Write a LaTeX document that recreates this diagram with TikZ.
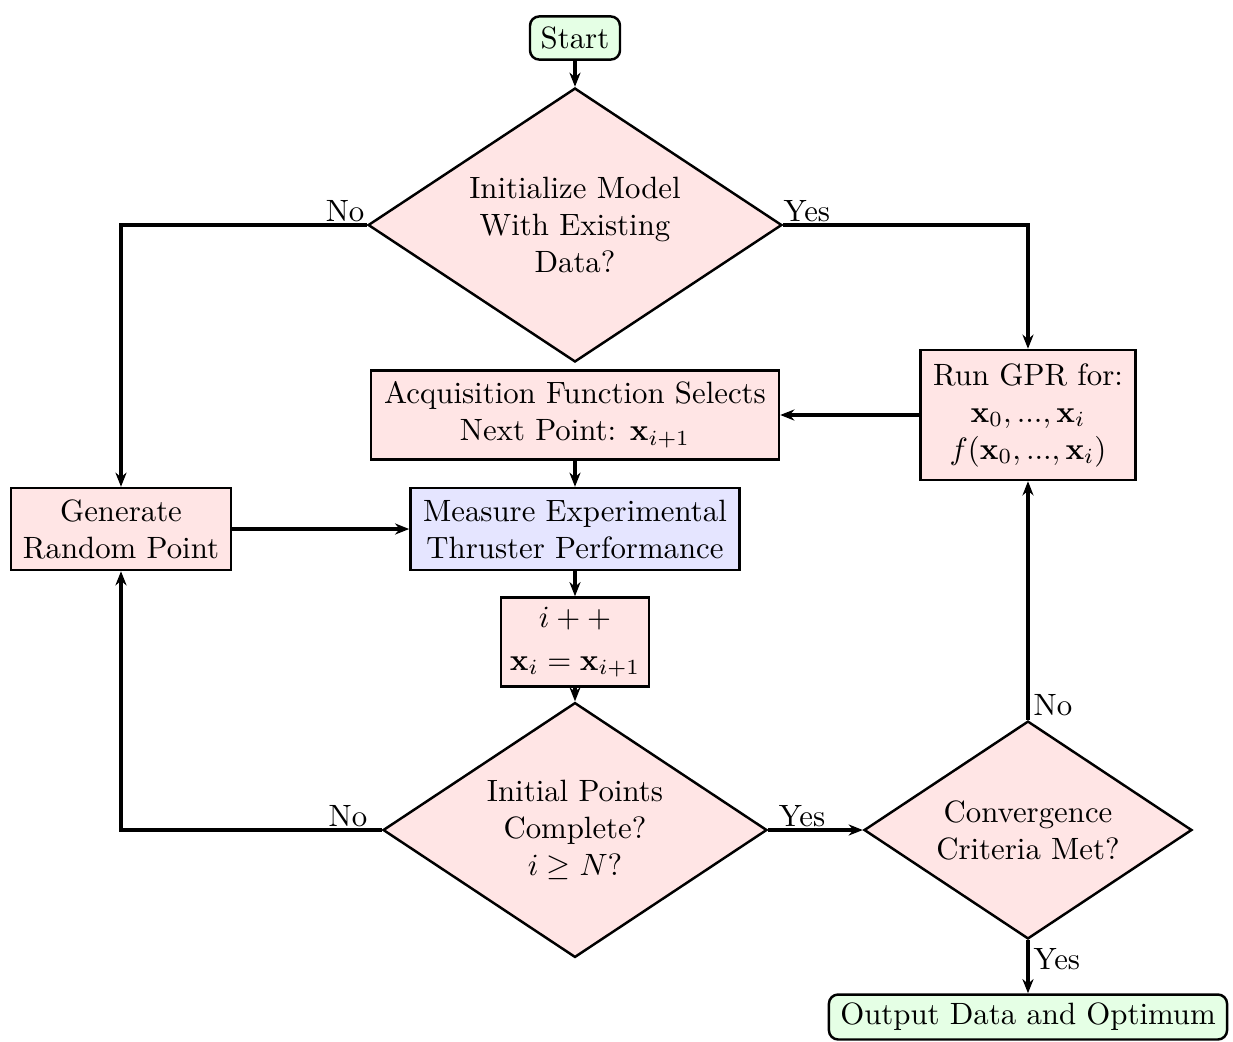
\documentclass[tikz,border=0pt]{standalone}
\usepackage{amsmath,amssymb}
\usetikzlibrary{shapes.geometric,arrows.meta}
\begin{document}
\begin{tikzpicture}[x=0.3245pt,y=-0.3245pt,
  proc/.style={draw,line width=0.8pt,fill=red!10,align=center,inner sep=0pt},
  meas/.style={proc,fill=blue!10},
  term/.style={draw,line width=0.8pt,fill=green!10,rounded corners=3pt,align=center,inner sep=0pt},
  decide/.style={diamond,aspect=1.51,draw,line width=0.8pt,fill=red!10,align=center,inner sep=0pt},
  flow/.style={line width=1pt,-{Stealth[length=4.6pt,width=3.6pt]}},
  lbl/.style={inner sep=1pt}]
\useasboundingbox (0,0) rectangle (1233,1041);

% nodes
\node[term,minimum width=29.2pt,minimum height=14pt] (start) at (575,38) {Start};
\node[decide,minimum width=134.3pt,minimum height=88.9pt] (init) at (575,225)
  {Initialize Model\\With Existing\\Data?};
\node[proc,minimum width=69.8pt,minimum height=42.2pt] (gpr) at (1028,415)
  {Run GPR for:\\$\mathbf{x}_0, ..., \mathbf{x}_i$\\$f(\mathbf{x}_0, ..., \mathbf{x}_i)$};
\node[proc,minimum width=132.4pt,minimum height=28.9pt] (acq) at (575,415)
  {Acquisition Function Selects\\Next Point: $\mathbf{x}_{i+1}$};
\node[meas,minimum width=106.8pt,minimum height=26.6pt] (meas) at (575,529)
  {Measure Experimental\\Thruster Performance};
\node[proc,minimum width=71.4pt,minimum height=26.6pt] (rand) at (121,529)
  {Generate\\Random Point};
\node[proc,minimum width=48pt,minimum height=28.9pt] (inc) at (575,642)
  {$i++$\\[2pt]$\mathbf{x}_i = \mathbf{x}_{i+1}$};
\node[decide,minimum width=124.6pt,minimum height=82.7pt] (done) at (575,830)
  {Initial Points\\Complete?\\$i \geq N$?};
\node[decide,aspect=1.5,minimum width=106.4pt,minimum height=70.7pt] (conv) at (1028,830)
  {Convergence\\Criteria Met?};
\node[term,minimum width=129.2pt,minimum height=14.6pt] (out) at (1028,1017)
  {Output Data and Optimum};

% bend points of the elbow connectors
\coordinate (nL) at (121,225);
\coordinate (yR) at (1028,225);
\coordinate (n2L) at (121,830);

% connectors
\draw[flow] (start) -- (init);
\draw[flow] (init.west) -- (nL) -- (rand.north);
\draw[flow] (init.east) -- (yR) -- (gpr.north);
\draw[flow] (gpr) -- (acq);
\draw[flow] (acq) -- (meas);
\draw[flow] (rand) -- (meas);
\draw[flow] (meas) -- (inc);
\draw[flow] (inc) -- (done);
\draw[flow] (done.west) -- (n2L) -- (rand.south);
\draw[flow] (done.east) -- (conv.west);
\draw[flow] (conv.north) -- (gpr.south);
\draw[flow] (conv.south) -- (out.north);

% branch labels
\node[lbl,anchor=south east] (l1) at (368,226) {No};
\node[lbl,anchor=south west] (l2) at (780,226) {Yes};
\node[lbl,anchor=south] (l3) at (348,831) {No};
\node[lbl,anchor=south] (l4) at (802,831) {Yes};
\node[lbl,anchor=south west] (l5) at (1030,720) {No};
\node[lbl,anchor=north west] (l6) at (1030,945) {Yes};
\end{tikzpicture}
\end{document}
